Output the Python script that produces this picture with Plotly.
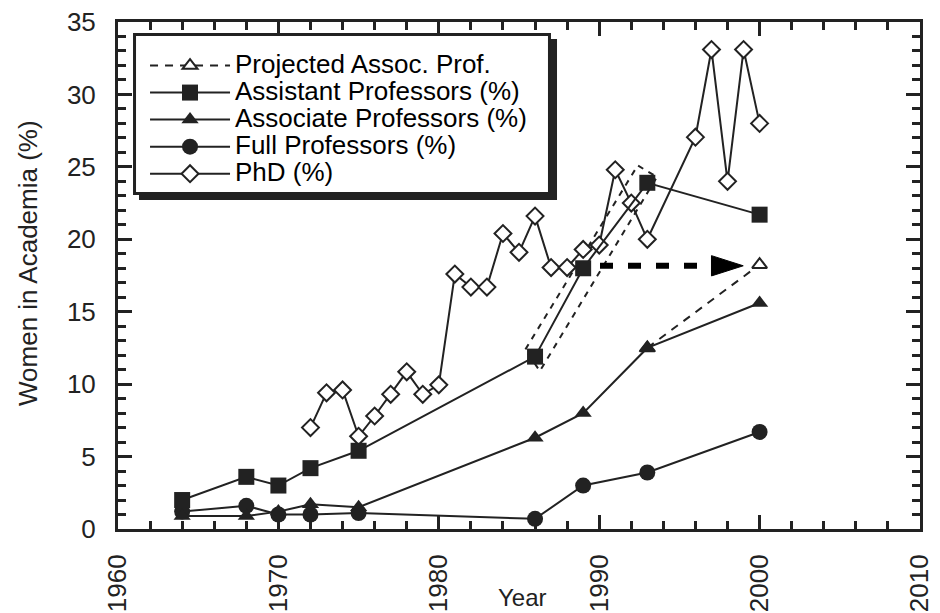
import plotly.graph_objects as go

# ---- data ----
years_fac = [1964, 1968, 1970, 1972, 1975, 1986, 1989, 1993, 2000]
assistant = [2.0, 3.6, 3.0, 4.2, 5.4, 11.9, 18.0, 23.9, 21.7]
associate = [0.9, 0.9, 1.2, 1.7, 1.5, 6.3, 8.0, 12.5, 15.6]
full_prof = [1.2, 1.6, 1.0, 1.0, 1.1, 0.7, 3.0, 3.9, 6.7]

years_proj = [1993, 2000]
projected = [12.5, 18.25]

years_phd = [1972, 1973, 1974, 1975, 1976, 1977, 1978, 1979, 1980, 1981, 1982,
             1983, 1984, 1985, 1986, 1987, 1988, 1989, 1990, 1991, 1992, 1993,
             1996, 1997, 1998, 1999, 2000]
phd = [7.0, 9.4, 9.6, 6.4, 7.8, 9.3, 10.85, 9.3, 9.95, 17.6, 16.7,
       16.7, 20.4, 19.1, 21.6, 18.05, 18.05, 19.3, 19.6, 24.8, 22.5, 20.0,
       27.05, 33.1, 24.0, 33.1, 28.0]

# annotation geometry (data units)
band_x = [1985.4, 1992.4, 1993.6, 1986.3]
band_y = [12.4, 25.1, 24.3, 10.9]
arrow_x = [1990.05, 1997.0, 1998.98]
arrow_y = 18.17
arrow_half = 0.7

x_ticks = [1960, 1970, 1980, 1990, 2000, 2010]
y_ticks = [0, 5, 10, 15, 20, 25, 30, 35]

INK = "#222222"
FONT = "Liberation Sans, Arial, Helvetica, sans-serif"


def lg(name):
    return '<span style="font-size:26px">' + name + '</span>'


fig = go.Figure()

fig.add_trace(go.Scatter(
    x=years_proj, y=projected, name=lg("Projected Assoc. Prof."), mode="lines+markers",
    line=dict(color=INK, width=2, dash="8px,7px"),
    marker=dict(symbol="triangle-up", size=13, color="white", line=dict(color=INK, width=2)),
    legendrank=1))
fig.add_trace(go.Scatter(
    x=years_phd, y=phd, name=lg("PhD (%)"), mode="lines+markers",
    line=dict(color=INK, width=2),
    marker=dict(symbol="diamond", size=13, color="white", line=dict(color=INK, width=2)),
    legendrank=5))
fig.add_trace(go.Scatter(
    x=years_fac, y=full_prof, name=lg("Full Professors (%)"), mode="lines+markers",
    line=dict(color=INK, width=2),
    marker=dict(symbol="circle", size=16, color=INK),
    legendrank=4))
fig.add_trace(go.Scatter(
    x=years_fac, y=associate, name=lg("Associate Professors (%)"), mode="lines+markers",
    line=dict(color=INK, width=2),
    marker=dict(symbol="triangle-up", size=15, color=INK),
    legendrank=3))
fig.add_trace(go.Scatter(
    x=years_fac, y=assistant, name=lg("Assistant Professors (%)"), mode="lines+markers",
    line=dict(color=INK, width=2),
    marker=dict(symbol="square", size=16, color=INK),
    legendrank=2))

# dashed band around the 1986-1993 assistant segment
band_path = "M {} {} L {} {} L {} {} L {} {} Z".format(
    band_x[0], band_y[0], band_x[1], band_y[1], band_x[2], band_y[2], band_x[3], band_y[3])
fig.add_shape(type="path", path=band_path, xref="x", yref="y",
              line=dict(color=INK, width=2, dash="6px,6px"), layer="below")

# thick dashed arrow
fig.add_shape(type="line", x0=arrow_x[0], y0=arrow_y, x1=arrow_x[1], y1=arrow_y,
              xref="x", yref="y", line=dict(color="black", width=6, dash="13px,15px"))
head = "M {} {} L {} {} L {} {} Z".format(
    arrow_x[1], arrow_y - arrow_half, arrow_x[2], arrow_y, arrow_x[1], arrow_y + arrow_half)
fig.add_shape(type="path", path=head, xref="x", yref="y",
              line=dict(color="black", width=1), fillcolor="black")

# legend frame: drop shadow + bordered white box (paper coords)
fig.add_shape(type="rect", xref="paper", yref="paper",
              x0=0.0262, x1=0.5474, y0=0.6489, y1=0.9665,
              fillcolor=INK, line=dict(width=0), layer="above")
fig.add_shape(type="rect", xref="paper", yref="paper",
              x0=0.0206, x1=0.5380, y0=0.6617, y1=0.9753,
              fillcolor="white", line=dict(color=INK, width=3), layer="above")

axis_common = dict(
    showline=True, linewidth=3, linecolor=INK, mirror="ticks",
    ticks="inside", ticklen=14, tickwidth=2.5, tickcolor=INK,
    showgrid=False, zeroline=False, ticklabeloverflow="allow",
    tickfont=dict(family=FONT, size=26, color=INK),
)

fig.update_xaxes(range=[1960, 2010], tickvals=x_ticks, ticktext=[str(v) for v in x_ticks],
                 tickangle=-90, ticklabelstandoff=12,
                 minor=dict(dtick=2, tick0=1960, ticks="inside", ticklen=8, tickwidth=2.5, tickcolor=INK),
                 **axis_common)
fig.update_yaxes(range=[0, 35], tickvals=y_ticks, ticktext=[str(v) for v in y_ticks],
                 ticklabelstandoff=14,
                 minor=dict(dtick=1, tick0=0, ticks="inside", ticklen=8, tickwidth=2.5, tickcolor=INK),
                 **axis_common)

fig.add_annotation(text="Year", xref="paper", yref="paper", x=0.504, y=-0.136,
                   showarrow=False, font=dict(family=FONT, size=24, color=INK),
                   xanchor="center", yanchor="middle")
fig.add_annotation(text="Women in Academia (%)", xref="paper", yref="paper", x=-0.112, y=0.525,
                   showarrow=False, textangle=-90, font=dict(family=FONT, size=26, color=INK),
                   xanchor="center", yanchor="middle")

fig.update_layout(
    width=940, height=613,
    margin=dict(l=110, r=28, t=14, b=92, autoexpand=False),
    plot_bgcolor="white", paper_bgcolor="white",
    showlegend=True,
    legend=dict(x=0.0337, y=0.9507, xanchor="left", yanchor="top",
                bgcolor="rgba(0,0,0,0)", borderwidth=0,
                font=dict(family=FONT, size=18.5, color="black"),
                itemwidth=80, traceorder="normal"),
)

fig.write_html("out.html")
